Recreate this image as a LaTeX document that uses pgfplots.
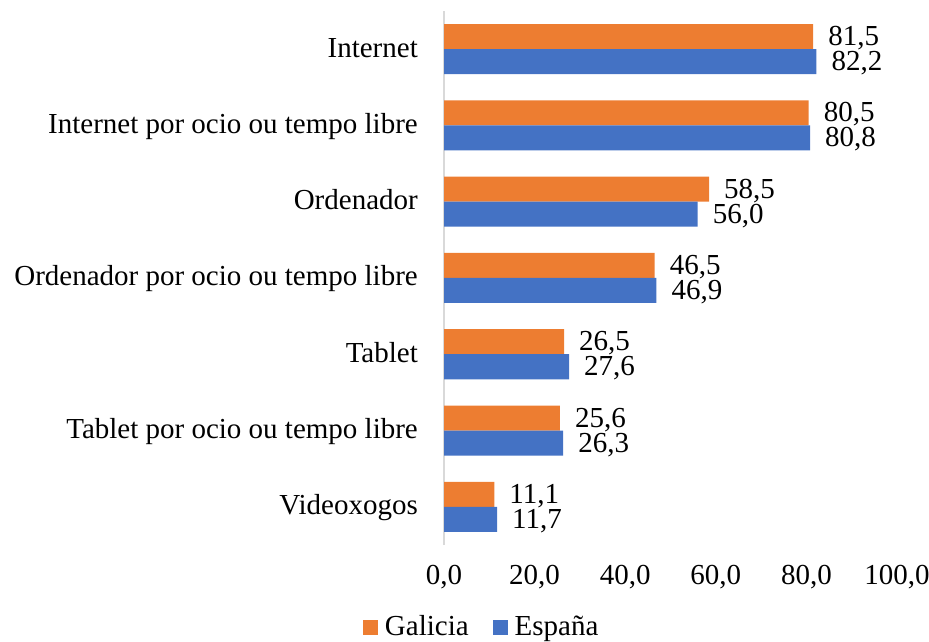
\documentclass[border=0pt]{standalone}
\usepackage{fontspec}
\setmainfont{Liberation Serif}
\usepackage{pgfplots}
\pgfplotsset{compat=1.18}
\definecolor{galicia}{HTML}{ED7D31}
\definecolor{espana}{HTML}{4472C4}
\definecolor{axisgray}{HTML}{D9D9D9}
\begin{document}
\fontsize{29bp}{34bp}\selectfont
\begin{tikzpicture}
\useasboundingbox (0,0) rectangle (929bp,642bp);
\begin{axis}[
  at={(444bp,97bp)}, anchor=south west,
  x=4.53bp, y=76.3bp,
  xmin=0, xmax=100, ymin=-0.5, ymax=6.5,
  xbar, bar width=0.328,
  axis line style={draw=none},
  tick style={draw=none},
  major tick length=0pt,
  xtick={0,20,...,100},
  xticklabel={\pgfmathprintnumber[fixed,fixed zerofill,precision=1,use comma]{\tick}},
  xticklabel style={anchor=base, inner sep=0pt, yshift=-39bp},
  ytick={0,1,2,3,4,5,6},
  yticklabels={Videoxogos, Tablet por ocio ou tempo libre, Tablet, Ordenador por ocio ou tempo libre, Ordenador, Internet por ocio ou tempo libre, Internet},
  yticklabel style={anchor=base east, inner sep=0pt, xshift=-26bp, yshift=-8bp},
  /pgf/number format/assume math mode=true,
  point meta=x,
  nodes near coords={\pgfmathprintnumber[fixed,fixed zerofill,precision=1,use comma,assume math mode=true]{\pgfplotspointmeta}},
  nodes near coords style={anchor=base west, inner sep=0pt, xshift=15bp, yshift=-9bp, text=black},
  clip=false,
  legend columns=2,
  legend image code/.code={\fill[#1] (0bp,0bp) rectangle (15bp,15bp); \path (22bp,0bp);},
  legend style={draw=none, fill=none, at={(axis cs:8.1,-1.58)}, anchor=center,
    inner sep=0pt, nodes={inner sep=0pt, anchor=base west},
    /tikz/every even column/.append style={column sep=24bp}},
]
\draw[axisgray, line width=1.6bp] (axis cs:0,-0.5) -- (axis cs:0,6.5);
\addplot[fill=galicia, draw=none, bar shift=0.164] coordinates {
  (11.1,0) (25.6,1) (26.5,2) (46.5,3) (58.5,4) (80.5,5) (81.5,6)};
\addlegendentry{Galicia}
\addplot[fill=espana, draw=none, bar shift=-0.164] coordinates {
  (11.7,0) (26.3,1) (27.6,2) (46.9,3) (56.0,4) (80.8,5) (82.2,6)};
\addlegendentry{España}
\end{axis}
\end{tikzpicture}
\end{document}
